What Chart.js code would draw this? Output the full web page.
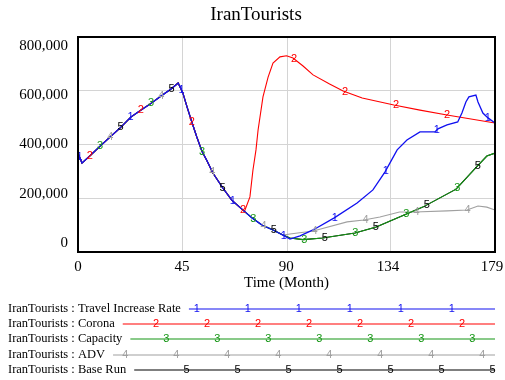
<!DOCTYPE html>
<html>
<head>
<meta charset="utf-8">
<script src="https://cdn.jsdelivr.net/npm/chart.js@4.4.1/dist/chart.umd.min.js"></script>
<style>
  html, body { margin: 0; padding: 0; background: #ffffff; }
  #wrap { width: 505px; height: 380px; position: relative; }
</style>
</head>
<body>
<div id="wrap"><canvas id="c" width="505" height="380"></canvas></div>
<script>
const chartTitle = 'IranTourists';
const xAxisTitle = 'Time (Month)';
const xTickValues = [0, 45, 90, 134, 179];
const yTickValues = [0, 200000, 400000, 600000, 800000];

const seriesNames = [
  'IranTourists : Travel Increase Rate',
  'IranTourists : Corona',
  'IranTourists : Capacity',
  'IranTourists : ADV',
  'IranTourists : Base Run'
];
const seriesColors = ['#1010f0', '#ff0000', '#149614', '#a0a0a0', '#000000'];

// Common trajectory of all runs before they split apart
const sharedMonths = [0, 1.7, 5, 10, 12.4, 18, 22.7, 27, 31, 35.6, 40, 43, 45, 46.8, 49, 51, 53.2, 55.4, 57.9, 62.2, 66, 70.8, 74.7, 79, 83.7, 88];
const sharedValues = [368000, 331000, 357000, 398000, 417000, 461000, 502000, 528000, 551000, 580000, 607000, 629000, 592000, 540000, 480000, 428000, 375000, 339000, 294000, 238000, 193000, 156000, 127000, 100000, 82000, 63000];

// Travel Increase Rate after the split
const travelMonths = [91, 95.3, 100.9, 110, 119.8, 126.6, 131.8, 137, 141.2, 146.8, 153.2, 154.5, 158.4, 163, 164.8, 166.5, 167.8, 170.8, 171.7, 173.8, 176, 179];
const travelValues = [48000, 60000, 82000, 127000, 182000, 231000, 298000, 380000, 417000, 447000, 447000, 458000, 473000, 484000, 517000, 558000, 577000, 584000, 558000, 517000, 499000, 480000];

// Corona leaves the common path earlier
const coronaMonths = [71.5, 73.8, 75.1, 76.4, 77.3, 79.4, 81.6, 83.7, 86.7, 89.5, 92.3, 96.6, 100.9, 108, 113.8, 122, 135.6, 146.8, 158.4, 179];
const coronaValues = [152000, 205000, 305000, 380000, 454000, 577000, 651000, 703000, 726000, 730000, 722000, 692000, 659000, 625000, 599000, 573000, 547000, 528000, 510000, 480000];

const capacityMonths = [91, 96.6, 105, 118.9, 128, 141, 148, 162.3, 171, 175.5, 179];
const capacityValues = [52000, 46000, 52000, 71000, 93000, 141000, 167000, 234000, 316000, 357000, 368000];

const advMonths = [91, 101, 115.5, 122.7, 129.6, 138, 144.6, 158.4, 167, 171.7, 175.5, 179];
const advValues = [67000, 78000, 112000, 119000, 130000, 149000, 149000, 153000, 156000, 171000, 167000, 156000];

const baseRunMonths = [91, 96.6, 105, 118.9, 128, 141, 148, 162.3, 171, 175.5, 179];
const baseRunValues = [52000, 46000, 52000, 71000, 93000, 141000, 167000, 234000, 316000, 357000, 368000];

const tails = [
  [travelMonths, travelValues],
  [coronaMonths, coronaValues],
  [capacityMonths, capacityValues],
  [advMonths, advValues],
  [baseRunMonths, baseRunValues]
];

function buildSeries(months, values) {
  const start = months[0];
  const pts = [];
  sharedMonths.forEach((m, i) => { if (m < start) pts.push({ x: m, y: sharedValues[i] }); });
  months.forEach((m, i) => pts.push({ x: m, y: values[i] }));
  return pts;
}

function valueAt(pts, m) {
  for (let i = 1; i < pts.length; i++) {
    if (m <= pts[i].x) {
      const a = pts[i - 1], b = pts[i];
      const t = (m - a.x) / (b.x - a.x);
      return a.y + t * (b.y - a.y);
    }
  }
  return pts[pts.length - 1].y;
}

const SERIF = '"Liberation Serif", "Times New Roman", serif';
const SANS = '"Liberation Sans", Arial, sans-serif';

const fmt = v => v.toLocaleString('en-US');

// Frame, numbered line markers, axis labels, title and key
const vensimDecor = {
  id: 'vensimDecor',
  afterDatasetsDraw(chart) {
    const { ctx, chartArea: a, scales } = chart;
    const xs = scales.x, ys = scales.y;
    ctx.save();
    // numbered markers along each run
    ctx.font = '11px ' + SANS;
    ctx.textAlign = 'center';
    ctx.textBaseline = 'middle';
    for (let i = chart.data.datasets.length - 1; i >= 0; i--) {
      const pts = chart.data.datasets[i].data;
      ctx.fillStyle = seriesColors[i];
      for (let m = 0.7 + 4.4 * i; m <= 179; m += 21.9) {
        const x = xs.getPixelForValue(m);
        const y = ys.getPixelForValue(valueAt(pts, m));
        ctx.fillText(String(i + 1), x, y);
      }
    }
    // frame
    ctx.strokeStyle = '#000';
    ctx.lineWidth = 2;
    ctx.strokeRect(a.left, a.top, a.right - a.left, a.bottom - a.top);
    ctx.restore();
  },
  afterDraw(chart) {
    const { ctx, chartArea: a, scales } = chart;
    const xs = scales.x, ys = scales.y;
    const h = a.bottom - a.top, w = a.right - a.left;
    ctx.save();
    ctx.fillStyle = '#000';
    ctx.textBaseline = 'middle';

    // title
    ctx.font = '19px ' + SERIF;
    ctx.textAlign = 'center';
    ctx.fillText(chartTitle, 256, 15);

    // y labels, pulled inside the frame
    ctx.font = '15px ' + SERIF;
    ctx.textAlign = 'right';
    yTickValues.forEach(v => {
      const p = ys.getPixelForValue(v);
      const y = a.top + 9 + (p - a.top) * (h - 18) / h;
      ctx.fillText(fmt(v), a.left - 10, y);
    });

    // x labels
    ctx.textAlign = 'center';
    xTickValues.forEach(v => {
      const p = xs.getPixelForValue(v);
      const x = a.left + (p - a.left) * (w - 3) / w;
      ctx.fillText(String(v), x, a.bottom + 15);
    });
    ctx.fillText(xAxisTitle, (a.left + a.right) / 2, a.bottom + 31);

    // key
    const rowY = [309, 324, 339, 355, 370];
    const lineEnd = 495;
    seriesNames.forEach((name, i) => {
      const y = rowY[i];
      ctx.font = '12.5px ' + SERIF;
      ctx.textAlign = 'left';
      ctx.fillStyle = '#000';
      ctx.fillText(name, 8, y);
      const x0 = 8 + ctx.measureText(name).width + 8;
      ctx.strokeStyle = seriesColors[i];
      ctx.lineWidth = 1.2;
      ctx.beginPath();
      ctx.moveTo(x0, y);
      ctx.lineTo(lineEnd, y);
      ctx.stroke();
      ctx.font = '11px ' + SANS;
      ctx.textAlign = 'center';
      ctx.fillStyle = seriesColors[i];
      for (let x = -7.2 + 10.2 * i; x <= lineEnd; x += 51) {
        if (x >= x0 + 6) ctx.fillText(String(i + 1), x, y);
      }
    });
    ctx.restore();
  }
};

const datasets = tails.map((t, i) => ({
  label: seriesNames[i],
  data: buildSeries(t[0], t[1]),
  borderColor: seriesColors[i],
  borderWidth: i === 0 ? 1.3 : 1.1,
  pointRadius: 0,
  tension: 0,
  fill: false
}));

new Chart(document.getElementById('c'), {
  type: 'line',
  data: { datasets },
  options: {
    responsive: false,
    animation: false,
    layout: { padding: { left: 78, top: 37, right: 10, bottom: 128 } },
    plugins: { legend: { display: false }, tooltip: { enabled: false }, title: { display: false } },
    scales: {
      x: {
        type: 'linear', min: 0, max: 179,
        afterBuildTicks: s => { s.ticks = xTickValues.map(v => ({ value: v })); },
        ticks: { display: false },
        grid: { color: '#d4d4d4', lineWidth: 1, drawTicks: false },
        border: { display: false }
      },
      y: {
        type: 'linear', min: 0, max: 800000,
        afterBuildTicks: s => { s.ticks = yTickValues.map(v => ({ value: v })); },
        ticks: { display: false },
        grid: { color: '#d4d4d4', lineWidth: 1, drawTicks: false },
        border: { display: false }
      }
    }
  },
  plugins: [vensimDecor]
});
</script>
</body>
</html>
